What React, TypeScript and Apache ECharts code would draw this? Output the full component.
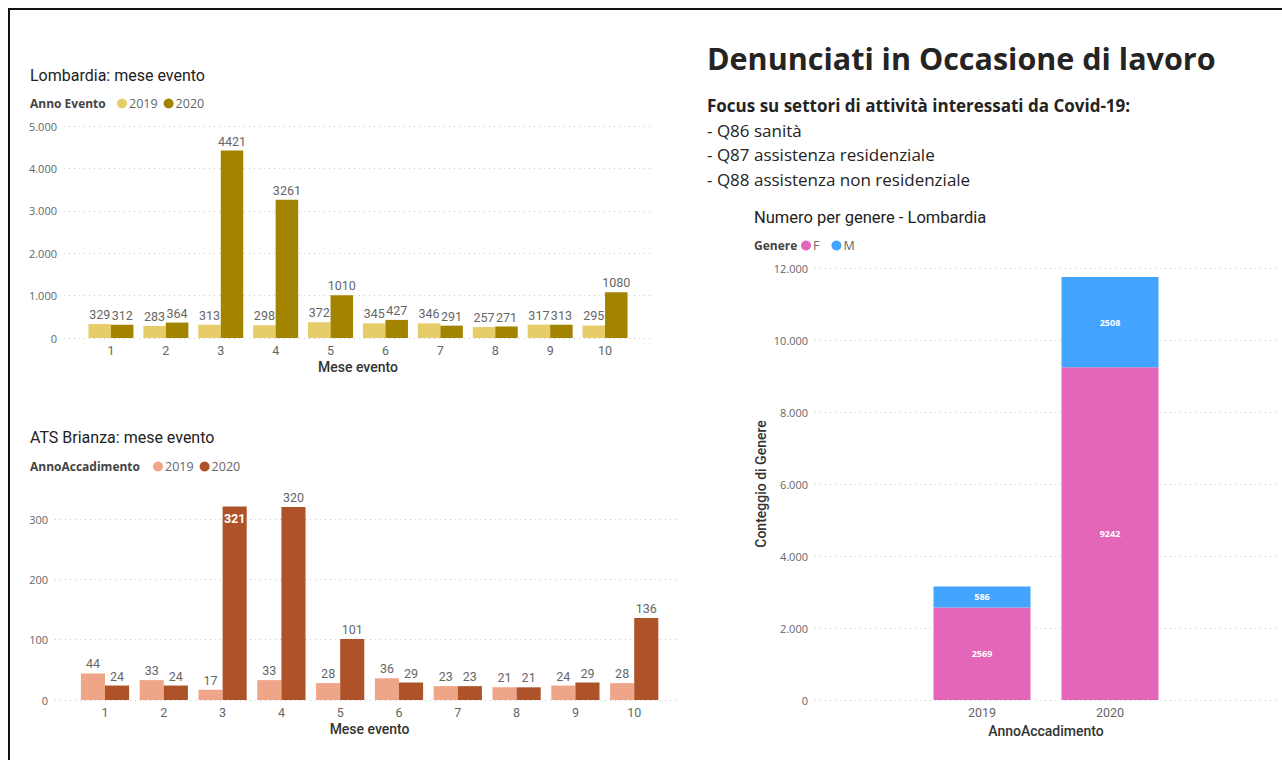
import React, { useEffect, useRef } from "react";
import * as echarts from "echarts";

const months = ["1", "2", "3", "4", "5", "6", "7", "8", "9", "10"];
const lombardia2019 = [329, 283, 313, 298, 372, 345, 346, 257, 317, 295];
const lombardia2020 = [312, 364, 4421, 3261, 1010, 427, 291, 271, 313, 1080];
const brianza2019 = [44, 33, 17, 33, 28, 36, 23, 21, 24, 28];
const brianza2020 = [24, 24, 321, 320, 101, 29, 23, 21, 29, 136];
const years = ["2019", "2020"];
const genereF = [2569, 9242];
const genereM = [586, 2508];

const C = {
  l19: "#E6CD6A",
  l20: "#A38400",
  b19: "#EFA587",
  b20: "#AE5229",
  f: "#E366B8",
  m: "#42A4FF",
};

const DIN = "Roboto, 'DejaVu Sans', sans-serif";
const SEGOE = "'Open Sans', 'Noto Sans', sans-serif";

const fmtThousands = (v: number) =>
  String(v).replace(/\B(?=(\d{3})+(?!\d))/g, ".");

const legendNames: Record<string, string> = {
  L2019: "2019",
  L2020: "2020",
  B2019: "2019",
  B2020: "2020",
  F: "F",
  M: "M",
};

export default function App() {
  const ref = useRef<HTMLDivElement>(null);

  useEffect(() => {
    if (!ref.current) return;
    const chart = echarts.init(ref.current, null, { renderer: "svg" });

    const splitLine = {
      show: true,
      lineStyle: { color: "#C8C8C8", type: [1, 4], width: 1 },
    };
    const yLabel = {
      color: "#666",
      fontSize: 11,
      fontFamily: SEGOE,
      margin: 7,
      formatter: (v: number) => fmtThousands(v),
    };
    const axisNameStyle = {
      color: "#333",
      fontSize: 14,
      fontWeight: 500,
      fontFamily: DIN,
    };
    const xCat = (gridIndex: number, data: string[], name: string, nameGap: number) => ({
      type: "category",
      gridIndex,
      data,
      axisLine: { show: false },
      axisTick: { show: false },
      axisLabel: { color: "#666", fontSize: 12.5, fontFamily: DIN, margin: 6 },
      name,
      nameLocation: "middle",
      nameGap,
      nameTextStyle: axisNameStyle,
    });
    const hiddenX = (gridIndex: number) => ({
      type: "value",
      gridIndex,
      show: false,
      min: 0,
      max: 1,
    });
    const barLabel = {
      show: true,
      position: "top",
      distance: 3,
      color: "#666",
      fontSize: 12.5,
      fontFamily: DIN,
    };

    const brianza2020Data = brianza2020.map((v, i) =>
      i === 2
        ? {
            value: v,
            label: {
              position: "insideTop",
              color: "#fff",
              fontWeight: "bold",
              distance: 6,
            },
          }
        : v
    );

    const legendBase = {
      orient: "horizontal",
      icon: "circle",
      itemWidth: 10,
      itemHeight: 10,
      itemGap: 6,
      padding: 0,
      selectedMode: false,
      textStyle: { color: "#666", fontSize: 12.5, fontFamily: SEGOE, padding: [0, 0, 0, -3] },
      formatter: (n: string) => legendNames[n] ?? n,
    };

    const text = (
      x: number,
      y: number,
      t: string,
      size: number,
      weight: string | number,
      family: string,
      color = "#333"
    ) => ({
      type: "text",
      x,
      y,
      style: {
        text: t,
        fontSize: size,
        fontWeight: weight,
        fontFamily: family,
        fill: color,
        verticalAlign: "middle",
        align: "left",
      },
    });

    chart.setOption({
      animation: false,
      backgroundColor: "#fff",
      grid: [
        { left: 64, top: 126, width: 586, height: 212 },
        { left: 83.5, top: 126, width: 549, height: 212 },
        { left: 55, top: 495, width: 625, height: 205 },
        { left: 75.6, top: 495, width: 588, height: 205 },
        { left: 815, top: 268, width: 465, height: 432 },
        { left: 918, top: 268, width: 256, height: 432 },
      ],
      xAxis: [
        hiddenX(0),
        xCat(1, months, "Mese evento", 22),
        hiddenX(2),
        xCat(3, months, "Mese evento", 22),
        hiddenX(4),
        xCat(5, years, "AnnoAccadimento", 22),
      ],
      yAxis: [
        {
          type: "value",
          gridIndex: 0,
          min: 0,
          max: 5000,
          interval: 1000,
          axisLine: { show: false },
          axisTick: { show: false },
          axisLabel: yLabel,
          splitLine,
        },
        { type: "value", gridIndex: 1, min: 0, max: 5000, show: false },
        {
          type: "value",
          gridIndex: 2,
          min: 0,
          max: 340,
          interval: 100,
          axisLine: { show: false },
          axisTick: { show: false },
          axisLabel: { ...yLabel, showMaxLabel: false },
          splitLine: { ...splitLine, showMaxLine: false },
        },
        { type: "value", gridIndex: 3, min: 0, max: 340, show: false },
        {
          type: "value",
          gridIndex: 4,
          min: 0,
          max: 12000,
          interval: 2000,
          axisLine: { show: false },
          axisTick: { show: false },
          axisLabel: yLabel,
          splitLine,
          name: "Conteggio di Genere",
          nameLocation: "middle",
          nameGap: 47,
          nameTextStyle: axisNameStyle,
        },
        { type: "value", gridIndex: 5, min: 0, max: 12000, show: false },
      ],
      legend: [
        { ...legendBase, left: 117, top: 97, data: ["L2019", "L2020"] },
        { ...legendBase, left: 153, top: 460, data: ["B2019", "B2020"] },
        { ...legendBase, left: 801, top: 239, itemGap: 12, data: ["F", "M"] },
      ],
      series: [
        {
          type: "bar",
          name: "L2019",
          xAxisIndex: 1,
          yAxisIndex: 1,
          data: lombardia2019,
          itemStyle: { color: C.l19 },
          barGap: "0%",
          barCategoryGap: "18%",
          label: barLabel,
        },
        {
          type: "bar",
          name: "L2020",
          xAxisIndex: 1,
          yAxisIndex: 1,
          data: lombardia2020,
          itemStyle: { color: C.l20 },
          barGap: "0%",
          barCategoryGap: "18%",
          label: barLabel,
        },
        {
          type: "bar",
          name: "B2019",
          xAxisIndex: 3,
          yAxisIndex: 3,
          data: brianza2019,
          itemStyle: { color: C.b19 },
          barGap: "0%",
          barCategoryGap: "18%",
          label: barLabel,
        },
        {
          type: "bar",
          name: "B2020",
          xAxisIndex: 3,
          yAxisIndex: 3,
          data: brianza2020Data,
          itemStyle: { color: C.b20 },
          barGap: "0%",
          barCategoryGap: "18%",
          label: barLabel,
        },
        {
          type: "bar",
          name: "F",
          stack: "genere",
          xAxisIndex: 5,
          yAxisIndex: 5,
          data: genereF,
          barWidth: 97,
          itemStyle: { color: C.f },
          label: {
            show: true,
            position: "inside",
            color: "#fff",
            fontWeight: "bold",
            fontSize: 9,
            fontFamily: SEGOE,
          },
        },
        {
          type: "bar",
          name: "M",
          stack: "genere",
          xAxisIndex: 5,
          yAxisIndex: 5,
          data: genereM,
          barWidth: 97,
          itemStyle: { color: C.m },
          label: {
            show: true,
            position: "inside",
            color: "#fff",
            fontWeight: "bold",
            fontSize: 9,
            fontFamily: SEGOE,
          },
        },
      ],
      graphic: [
        text(30, 75, "Lombardia: mese evento", 16, "normal", DIN, "#222"),
        text(30, 103, "Anno Evento", 12, "bold", SEGOE, "#444"),
        text(30, 437, "ATS Brianza: mese evento", 16, "normal", DIN, "#222"),
        text(30, 466, "AnnoAccadimento", 12, "bold", SEGOE, "#444"),
        text(707, 58, "Denunciati in Occasione di lavoro", 30.5, "bold", SEGOE, "#252423"),
        text(707, 105, "Focus su settori di attività interessati da Covid-19:", 17, "bold", SEGOE, "#252423"),
        text(707, 130, "- Q86 sanità", 17, "normal", SEGOE, "#252423"),
        text(707, 154, "- Q87 assistenza residenziale", 17, "normal", SEGOE, "#252423"),
        text(707, 179, "- Q88 assistenza non residenziale", 17, "normal", SEGOE, "#252423"),
        text(754, 217, "Numero per genere - Lombardia", 16.5, "normal", DIN, "#222"),
        text(754, 245, "Genere", 12, "bold", SEGOE, "#444"),
      ],
    });

    return () => chart.dispose();
  }, []);

  return (
    <div
      style={{
        position: "fixed",
        left: 0,
        top: 0,
        width: 1282,
        height: 760,
        background: "#fff",
      }}
    >
      <div ref={ref} style={{ position: "absolute", left: 0, top: 0, width: 1282, height: 760 }} />
      <div
        style={{
          position: "absolute",
          left: 8,
          top: 8,
          right: 0,
          bottom: 0,
          borderTop: "2px solid #111",
          borderLeft: "2px solid #111",
          pointerEvents: "none",
        }}
      />
    </div>
  );
}
